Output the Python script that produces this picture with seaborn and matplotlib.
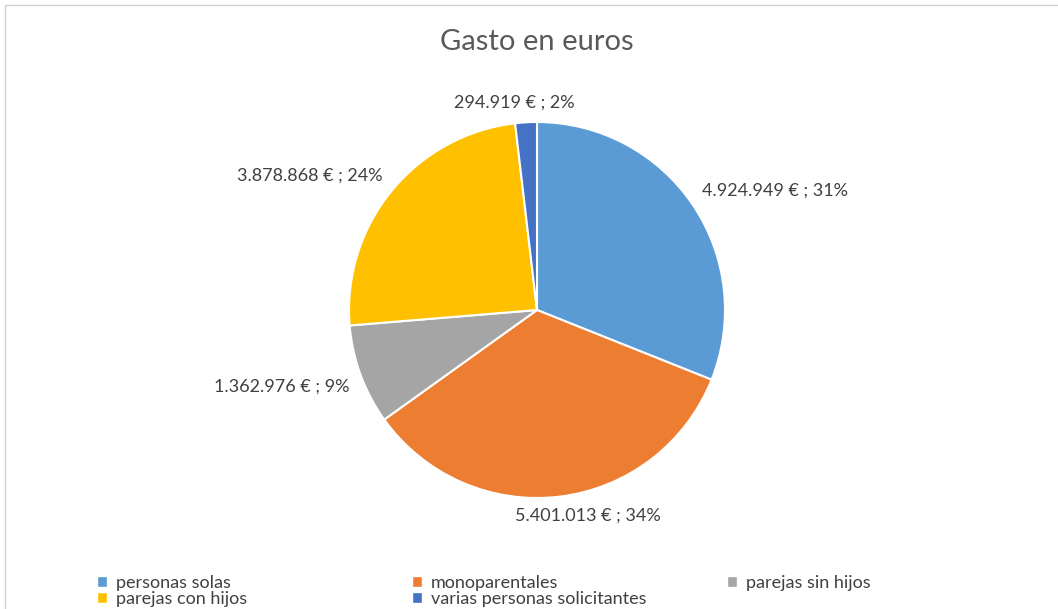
import numpy as np
import matplotlib
matplotlib.use("Agg")
import matplotlib.pyplot as plt
from matplotlib.patches import Patch, Rectangle
import seaborn as sns

# datos
categorias = ["personas solas", "monoparentales", "parejas sin hijos",
              "parejas con hijos", "varias personas solicitantes"]
gasto = [4924949, 5401013, 1362976, 3878868, 294919]
colores = ["#5B9BD5", "#ED7D31", "#A5A5A5", "#FFC000", "#4472C4"]

sns.set_style("white")
plt.rcParams['font.family'] = ['Lato', 'DejaVu Sans']

W, H = 1058, 609
fig = plt.figure(figsize=(W / 100, H / 100), dpi=100)

# marco del grafico
fig.add_artist(Rectangle((5 / W, -0.1), 1.2, (H - 5) / H + 0.1, transform=fig.transFigure,
                         fill=False, ec="#d0d0d0", lw=1))

cx, cy, r = 537, 310, 188
ax = fig.add_axes([(cx - r) / W, (H - cy - r) / H, 2 * r / W, 2 * r / H])
wedges, _ = ax.pie(gasto, colors=colores, startangle=90, counterclock=False,
                   wedgeprops=dict(edgecolor="white", linewidth=1.5))
ax.set_xlim(-1, 1)
ax.set_ylim(-1, 1)
ax.set_aspect("equal")
ax.axis("off")

total = sum(gasto)
etiquetas = []
for w, v in zip(wedges, gasto):
    ang = np.deg2rad((w.theta1 + w.theta2) / 2)
    c, s = np.cos(ang), np.sin(ang)
    txt = f"{v:,}".replace(",", ".") + f" € ; {v / total * 100:.0f}%"
    t = ax.annotate(txt, xy=(1.06 * c, 1.06 * s), xytext=(0, 0), textcoords="offset pixels",
                    ha="center", va="center", fontsize=13, color="#404040",
                    annotation_clip=False)
    etiquetas.append((t, np.clip(3 * c, -1, 1), np.clip(3 * s, -1, 1)))

# desplazar etiquetas hacia fuera segun su tamaño
fig.canvas.draw()
for t, kx, ky in etiquetas:
    bb = t.get_window_extent()
    t.xyann = (kx * bb.width / 2, ky * bb.height / 2)

fig.text(cx / W, 1 - 42 / H, "Gasto en euros", ha="center", va="center",
         fontsize=21, color="#595959")

# leyenda en tres columnas
handles = [Patch(facecolor=c) for c in colores]
columnas = [[0, 3], [1, 4], [2]]
xs = [88, 403, 718]
for x, idx in zip(xs, columnas):
    fig.legend([handles[i] for i in idx], [categorias[i] for i in idx],
               loc="upper left", bbox_to_anchor=(x / W, 1 - 566 / H),
               frameon=False, fontsize=13, handlelength=0.55, handleheight=0.55,
               handletextpad=0.5, labelspacing=0.0, borderpad=0,
               labelcolor="#404040")

fig.savefig("out.png", dpi=100)
